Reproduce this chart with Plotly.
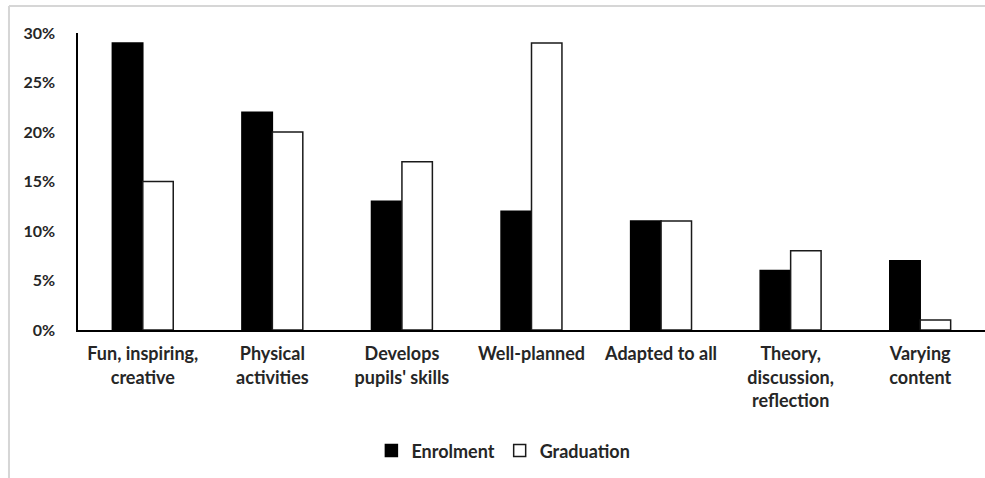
import plotly.graph_objects as go

categories = [
    "Fun, inspiring,<br>creative",
    "Physical<br>activities",
    "Develops<br>pupils' skills",
    "Well-planned",
    "Adapted to all",
    "Theory,<br>discussion,<br>reflection",
    "Varying<br>content",
]
enrolment = [0.29, 0.22, 0.13, 0.12, 0.11, 0.06, 0.07]
graduation = [0.15, 0.20, 0.17, 0.29, 0.11, 0.08, 0.01]
y_ticks = [0, 0.05, 0.10, 0.15, 0.20, 0.25, 0.30]

FONT = "Lato"
TEXT = "#262626"

fig = go.Figure()
fig.add_trace(go.Bar(
    name="Enrolment", x=categories, y=enrolment,
    marker=dict(color="black", line=dict(color="black", width=1.5)),
))
fig.add_trace(go.Bar(
    name="Graduation", x=categories, y=graduation,
    marker=dict(color="white", line=dict(color="#1a1a1a", width=1.5)),
))

# light frame around the chart area (top and left edges)
frame = dict(color="#d6d6d6", width=2)
fig.add_shape(type="line", xref="paper", yref="paper",
              x0=-0.0761, x1=1.02, y0=1.0909, y1=1.0909, line=frame)
fig.add_shape(type="line", xref="paper", yref="paper",
              x0=-0.0761, x1=-0.0761, y0=1.0909, y1=-0.52, line=frame)

fig.update_layout(
    width=985, height=478,
    margin=dict(l=78, r=0, t=33, b=148),
    paper_bgcolor="white", plot_bgcolor="white",
    barmode="group", bargap=0.53, bargroupgap=0,
    font=dict(family=FONT, size=15, color=TEXT, weight="bold"),
    showlegend=True,
    legend=dict(
        orientation="h", x=0.469, y=-0.407, xanchor="center", yanchor="middle",
        font=dict(family=FONT, size=18, color=TEXT, weight="bold"),
        itemwidth=30, traceorder="normal",
    ),
)
fig.update_xaxes(
    showline=True, linecolor="black", linewidth=1.5, ticks="",
    showgrid=False, ticklabelstandoff=7,
    tickfont=dict(family=FONT, size=18, color=TEXT, weight="bold"),
)
fig.update_yaxes(
    range=[0, 0.30], tickvals=y_ticks, tickformat=".0%",
    showline=True, linecolor="black", linewidth=1.5, ticks="",
    showgrid=False, zeroline=False, ticklabelstandoff=18,
    tickfont=dict(family=FONT, size=16, color=TEXT, weight="bold"),
)

fig.write_html("out.html")
